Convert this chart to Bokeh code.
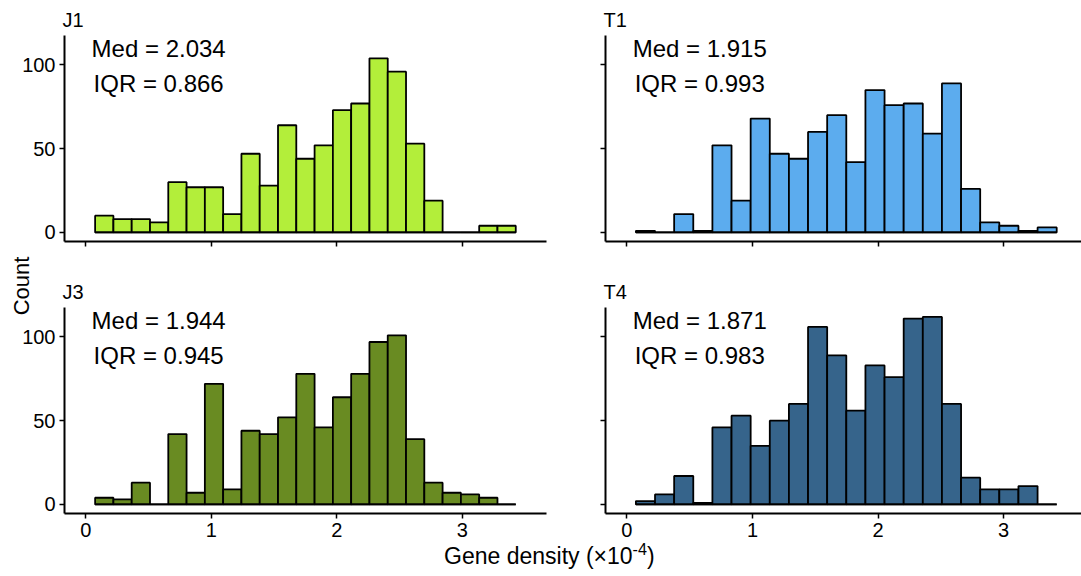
from bokeh.plotting import figure
from bokeh.models import Range1d, FixedTicker, Div
from bokeh.layouts import column, row
from bokeh.embed import file_html
from bokeh.resources import INLINE
from bokeh.core.properties import value

# ---------------- data ----------------
x_ticks = [0, 1, 2, 3]
y_ticks = [0, 50, 100]

# bins (gene density, x10^-4)
J_bin_start = 0.074
J_bin_width = 0.1457
T_bin_start = 0.072
T_bin_width = 0.1523

J1_counts = [10, 8, 8, 6, 30, 27, 27, 11, 47, 28, 64, 44, 52, 73, 77, 104, 96, 53, 19, 0, 0, 4, 4]
T1_counts = [1, 0, 11, 1, 52, 19, 68, 47, 44, 60, 70, 42, 85, 76, 77, 59, 89, 26, 6, 4, 1, 3]
J3_counts = [4, 3, 13, 0, 42, 7, 72, 9, 44, 42, 52, 78, 46, 64, 78, 97, 101, 39, 13, 7, 6, 4, 0]
T4_counts = [2, 6, 17, 1, 46, 53, 35, 50, 60, 106, 89, 56, 83, 76, 111, 112, 60, 16, 9, 9, 11, 0]

medians = {"J1": "2.034", "T1": "1.915", "J3": "1.944", "T4": "1.871"}
iqrs = {"J1": "0.866", "T1": "0.993", "J3": "0.945", "T4": "0.983"}
colors = {"J1": "#B3EE3A", "T1": "#5CACEE", "J3": "#698B22", "T4": "#36648B"}

FONT = "Liberation Sans"


def make_panel(name, counts, start, bw, w, h, bl, br, bt, bb, xr, show_xlab, show_ylab):
    p = figure(width=w, height=h, x_range=Range1d(*xr), y_range=Range1d(-5.4, 117.6),
               output_backend="svg", toolbar_location=None,
               min_border_left=bl, min_border_right=br, min_border_top=bt, min_border_bottom=bb)
    p.outline_line_color = None
    p.xgrid.visible = False
    p.ygrid.visible = False
    p.background_fill_color = "white"
    p.border_fill_color = "white"

    n = len(counts)
    left = [start + i * bw for i in range(n)]
    right = [start + (i + 1) * bw for i in range(n)]
    p.quad(left=left, right=right, bottom=0, top=counts, fill_color=colors[name],
           line_color="black", line_width=1.8)
    p.segment(x0=[left[0]], y0=[0], x1=[right[-1]], y1=[0], line_color="black", line_width=1.8)

    p.text(x=[0.58, 0.58], y=[110, 89],
           text=[f"Med = {medians[name]}", f"IQR = {iqrs[name]}"],
           text_font=value(FONT), text_font_size="24px", text_color="black",
           text_align="center", text_baseline="middle")

    p.title.text = name
    p.title.text_font = FONT
    p.title.text_font_size = "20px"
    p.title.text_font_style = "normal"
    p.title.text_color = "black"
    p.title.align = "left"
    p.title.standoff = 9
    p.title.offset = -2

    for ax in (p.xaxis[0], p.yaxis[0]):
        ax.axis_line_width = 2
        ax.axis_line_color = "black"
        ax.major_tick_line_width = 1.5
        ax.major_tick_line_color = "black"
        ax.major_tick_out = 5
        ax.major_tick_in = 0
        ax.minor_tick_line_color = None
        ax.major_label_text_font = FONT
        ax.major_label_text_font_size = "20px"
        ax.major_label_text_color = "black"
        ax.major_label_standoff = 4
    p.xaxis.ticker = FixedTicker(ticks=x_ticks)
    p.yaxis.ticker = FixedTicker(ticks=y_ticks)
    if not show_xlab:
        p.xaxis.major_label_overrides = {t: "" for t in x_ticks}
        p.xaxis.major_label_text_font_size = "1px"
        p.xaxis.major_label_standoff = 0
    if not show_ylab:
        p.yaxis.major_label_overrides = {t: "" for t in y_ticks}
        p.yaxis.major_label_text_font_size = "1px"
        p.yaxis.major_label_standoff = 0
    return p


left_xr = (-0.17, 3.67)
right_xr = (-0.17, 3.62)

tl = make_panel("J1", J1_counts, J_bin_start, J_bin_width, 580, 258, 64, 34, 35, 17, left_xr, False, True)
tr = make_panel("T1", T1_counts, T_bin_start, T_bin_width, 501, 258, 25, 0, 35, 17, right_xr, False, False)
bl = make_panel("J3", J3_counts, J_bin_start, J_bin_width, 580, 287, 64, 34, 49, 32, left_xr, True, True)
br = make_panel("T4", T4_counts, T_bin_start, T_bin_width, 501, 287, 25, 0, 49, 32, right_xr, True, False)

count_html = ('<div style="position:absolute; left:22px; top:-259px; white-space:nowrap; '
              'transform: translate(-50%, -50%) rotate(-90deg); font-size:22px; line-height:24px;">Count</div>')
xdiv = Div(text=count_html +
           'Gene density (&times;10<sup style="font-size:0.7em;vertical-align:super;line-height:0">-4</sup>)',
           width=1081, height=31,
           styles={"font-family": FONT, "font-size": "23px", "line-height": "22px",
                   "padding-left": "444px", "color": "black", "margin": "0",
                   "overflow": "visible", "position": "relative"})

layout = column(row(tl, tr), row(bl, br), xdiv)

open("out.html", "w").write(file_html(layout, INLINE))
